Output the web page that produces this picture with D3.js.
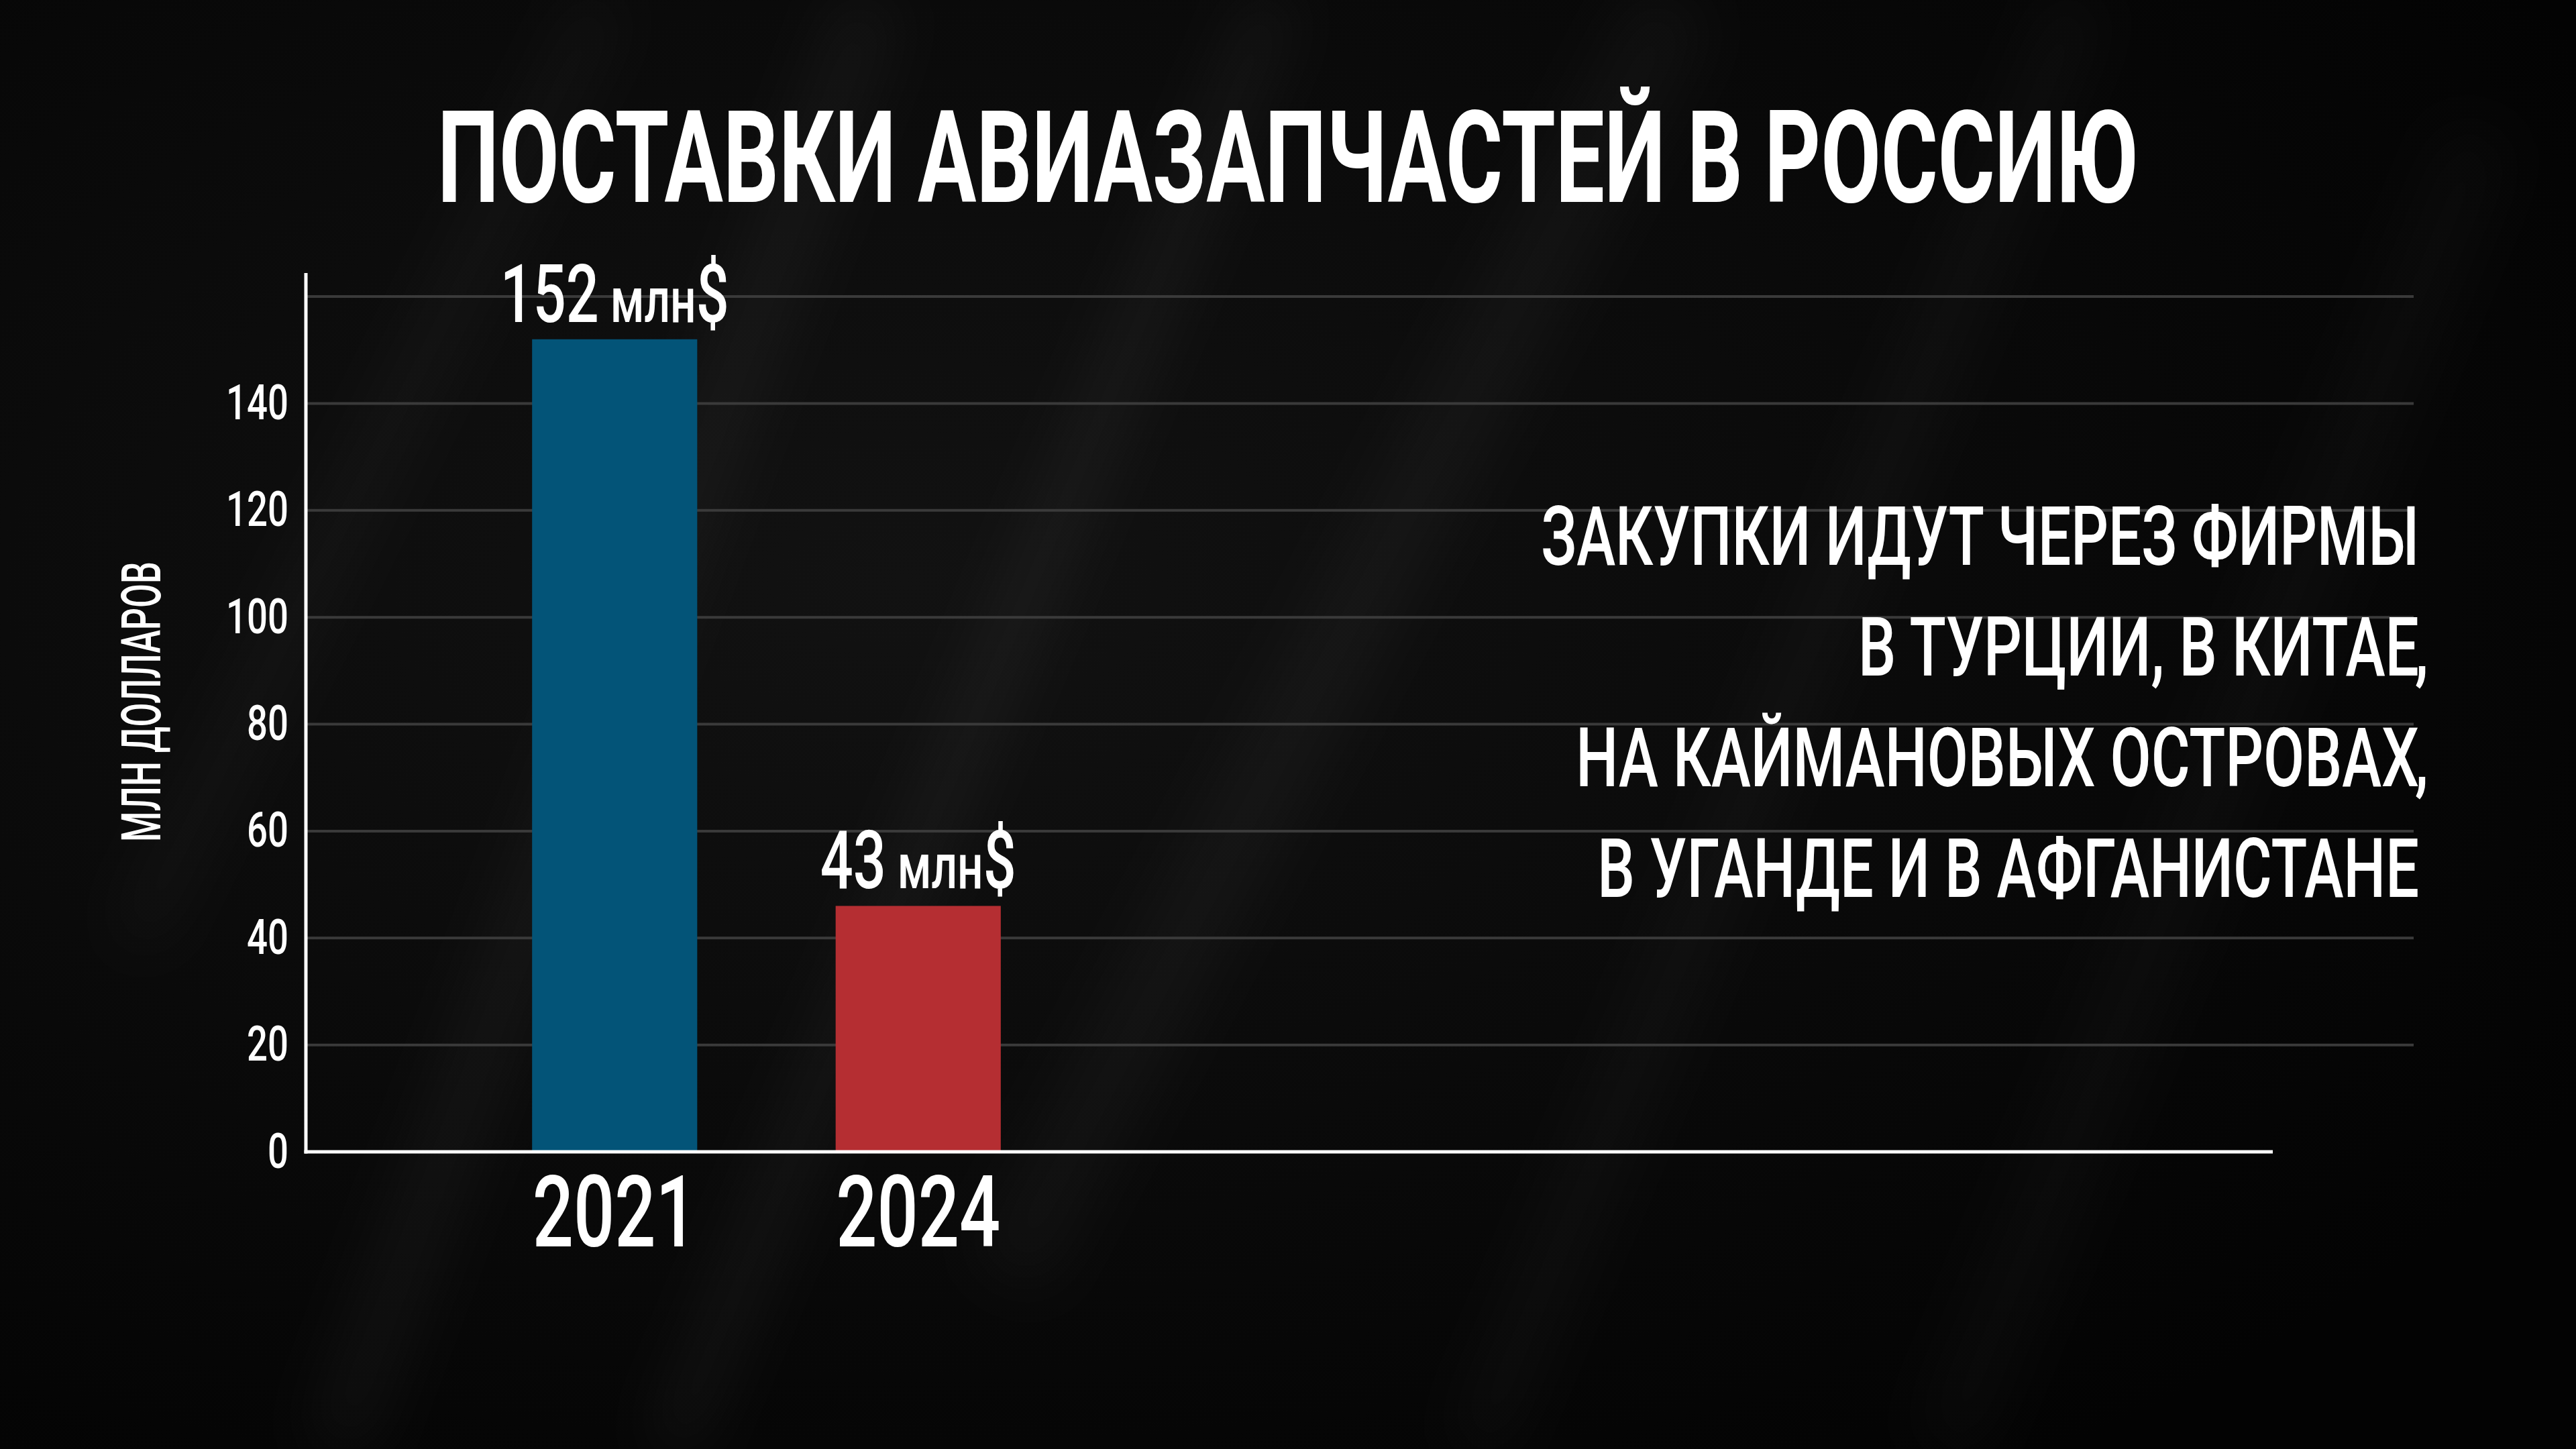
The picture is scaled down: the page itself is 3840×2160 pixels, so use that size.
<!DOCTYPE html>
<html>
<head>
<meta charset="utf-8">
<script src="https://cdn.jsdelivr.net/npm/d3@7"></script>
<style>
  html, body { margin: 0; padding: 0; background: #050505; }
  svg { display: block; }
</style>
</head>
<body>
<div id="chart"></div>
<script>
// chart data
const years = ["2021", "2024"];
const barValues = [152, 46];      // bar heights as drawn in the picture
const labelValues = [152, 43];    // numbers printed above the bars
const barColors = ["#035478", "#b52e32"];
const yTicks = [0, 20, 40, 60, 80, 100, 120, 140];
const gridTicks = [20, 40, 60, 80, 100, 120, 140, 160];
const title = "ПОСТАВКИ АВИАЗАПЧАСТЕЙ В РОССИЮ";
const yLabel = "МЛН ДОЛЛАРОВ";
const unit = "млн";
const noteLines = [
  "ЗАКУПКИ ИДУТ ЧЕРЕЗ ФИРМЫ",
  "В ТУРЦИИ, В КИТАЕ,",
  "НА КАЙМАНОВЫХ ОСТРОВАХ,",
  "В УГАНДЕ И В АФГАНИСТАНЕ"
];

(function() {
  var width = 3840,
      height = 2160;
  var font = "Roboto, 'Noto Sans', sans-serif";

  // squash text horizontally around its anchor so it looks like a condensed face
  function squeeze(text, target) {
    const w = text.node().getBBox().width;
    const ax = +text.attr("x") || 0;
    const k = target / w;
    text.attr("transform", `translate(${ax},0) scale(${k},1) translate(${-ax},0)`);
    return k;
  }
  function squeezeBy(text, k) {
    const ax = +text.attr("x") || 0;
    text.attr("transform", `translate(${ax},0) scale(${k},1) translate(${-ax},0)`);
  }

  const svg = d3.select("#chart").append("svg")
    .attr("width", width)
    .attr("height", height);

  // background: near black with a few soft diagonal light streaks
  const defs = svg.append("defs");
  const bg = defs.append("radialGradient").attr("id", "bg")
    .attr("cx", "35%").attr("cy", "40%").attr("r", "75%");
  bg.append("stop").attr("offset", "0%").attr("stop-color", "#121212");
  bg.append("stop").attr("offset", "100%").attr("stop-color", "#030303");
  defs.append("filter").attr("id", "blur")
    .attr("x", "-50%").attr("y", "-50%").attr("width", "200%").attr("height", "200%")
    .append("feGaussianBlur").attr("stdDeviation", 45);

  svg.append("rect").attr("width", width).attr("height", height).attr("fill", "url(#bg)");

  const streaks = [
    [500, 2160, 1300, 0, 90, 0.04],
    [1000, 2160, 1900, 0, 60, 0.05],
    [1500, 1900, 2500, 0, 120, 0.03],
    [2200, 2160, 3100, 0, 70, 0.03],
    [2900, 2160, 3700, 200, 100, 0.025],
    [200, 1400, 900, 0, 60, 0.035]
  ];
  svg.append("g").attr("filter", "url(#blur)")
    .selectAll("line")
    .data(streaks)
    .join("line")
    .attr("x1", d => d[0]).attr("y1", d => d[1])
    .attr("x2", d => d[2]).attr("y2", d => d[3])
    .attr("stroke", "#ffffff")
    .attr("stroke-width", d => d[4])
    .attr("stroke-opacity", d => d[5]);

  // scales
  const x = d3.scaleBand()
    .domain(years)
    .range([690, 1595])
    .paddingInner(0.456)
    .paddingOuter(0.228);
  const y = d3.scaleLinear()
    .domain([0, 160])
    .range([1717, 442]);

  const axisX = 456, gridRight = 3598, baseRight = 3388;

  // gridlines
  svg.append("g")
    .selectAll("line")
    .data(gridTicks)
    .join("line")
    .attr("x1", axisX)
    .attr("x2", gridRight)
    .attr("y1", d => y(d))
    .attr("y2", d => y(d))
    .attr("stroke", "#3a3a3a")
    .attr("stroke-width", 4);

  // bars
  svg.append("g")
    .selectAll("rect")
    .data(years)
    .join("rect")
    .attr("x", d => x(d))
    .attr("width", x.bandwidth())
    .attr("y", (d, i) => y(barValues[i]))
    .attr("height", (d, i) => y(0) - y(barValues[i]))
    .attr("fill", (d, i) => barColors[i]);

  // axis lines
  svg.append("line")
    .attr("x1", axisX).attr("x2", axisX)
    .attr("y1", 407).attr("y2", y(0) + 2.5)
    .attr("stroke", "#ffffff").attr("stroke-width", 5);
  svg.append("line")
    .attr("x1", axisX - 2.5).attr("x2", baseRight)
    .attr("y1", y(0)).attr("y2", y(0))
    .attr("stroke", "#ffffff").attr("stroke-width", 5);

  // y axis tick labels
  const yAxis = svg.append("g")
    .attr("transform", `translate(${axisX},0)`)
    .call(d3.axisLeft(y).tickValues(yTicks).tickSize(0).tickPadding(26));
  yAxis.select(".domain").remove();
  yAxis.selectAll("text")
    .attr("fill", "#ffffff")
    .style("font-family", font)
    .style("font-weight", 500)
    .style("font-size", "72px");
  const kTick = squeeze(yAxis.selectAll("text").filter(d => d === 140), 93);
  yAxis.selectAll("text").each(function() { squeezeBy(d3.select(this), kTick); });

  // x axis year labels
  const xAxis = svg.append("g")
    .attr("transform", `translate(0,${y(0)})`)
    .call(d3.axisBottom(x).tickSize(0).tickPadding(36));
  xAxis.select(".domain").remove();
  xAxis.selectAll("text")
    .attr("fill", "#ffffff")
    .style("font-family", font)
    .style("font-weight", 500)
    .style("font-size", "148px");
  const kYear = squeeze(xAxis.selectAll("text").filter(d => d === "2024"), 245);
  xAxis.selectAll("text").each(function() { squeezeBy(d3.select(this), kYear); });

  // value labels above bars
  let kVal = null;
  years.forEach((yr, i) => {
    const t = svg.append("text")
      .attr("x", x(yr) + x.bandwidth() / 2)
      .attr("y", y(barValues[i]) - 26)
      .attr("text-anchor", "middle")
      .attr("fill", "#ffffff")
      .style("font-family", font)
      .style("font-weight", 500);
    t.append("tspan").style("font-size", "120px").text(labelValues[i]);
    t.append("tspan").style("font-size", "94px").text(" " + unit);
    t.append("tspan").style("font-size", "120px").text("$");
    if (kVal === null) kVal = squeeze(t, 341);
    else squeezeBy(t, kVal);
  });

  // title
  const tt = svg.append("text")
    .attr("x", width / 2)
    .attr("y", 301)
    .attr("text-anchor", "middle")
    .attr("fill", "#ffffff")
    .style("font-family", font)
    .style("font-weight", 700)
    .style("font-size", "191px")
    .text(title);
  squeeze(tt, 2536);

  // y axis title
  const yl = svg.append("g")
    .attr("transform", "translate(239,1046) rotate(-90)")
    .append("text")
    .attr("x", 0).attr("y", 0)
    .attr("text-anchor", "middle")
    .attr("fill", "#ffffff")
    .style("font-family", font)
    .style("font-weight", 500)
    .style("font-size", "82px")
    .text(yLabel);
  squeeze(yl, 418);

  // note on the right, right aligned; trailing commas hang past the edge
  const noteRight = 3606;
  const noteWidths = [1309, 836, 1257, 1225];
  noteLines.forEach((line, i) => {
    const hasComma = line.endsWith(",");
    const body = hasComma ? line.slice(0, -1) : line;
    const yy = 842 + i * 165;
    const t = svg.append("text")
      .attr("x", noteRight)
      .attr("y", yy)
      .attr("text-anchor", "end")
      .attr("fill", "#ffffff")
      .style("font-family", font)
      .style("font-weight", 500)
      .style("font-size", "122px")
      .text(body);
    const k = squeeze(t, noteWidths[i]);
    if (hasComma) {
      const c = svg.append("text")
        .attr("x", noteRight - 6)
        .attr("y", yy)
        .attr("fill", "#ffffff")
        .style("font-family", font)
        .style("font-weight", 500)
        .style("font-size", "122px")
        .text(",");
      squeezeBy(c, k);
    }
  });
})();
</script>
</body>
</html>
